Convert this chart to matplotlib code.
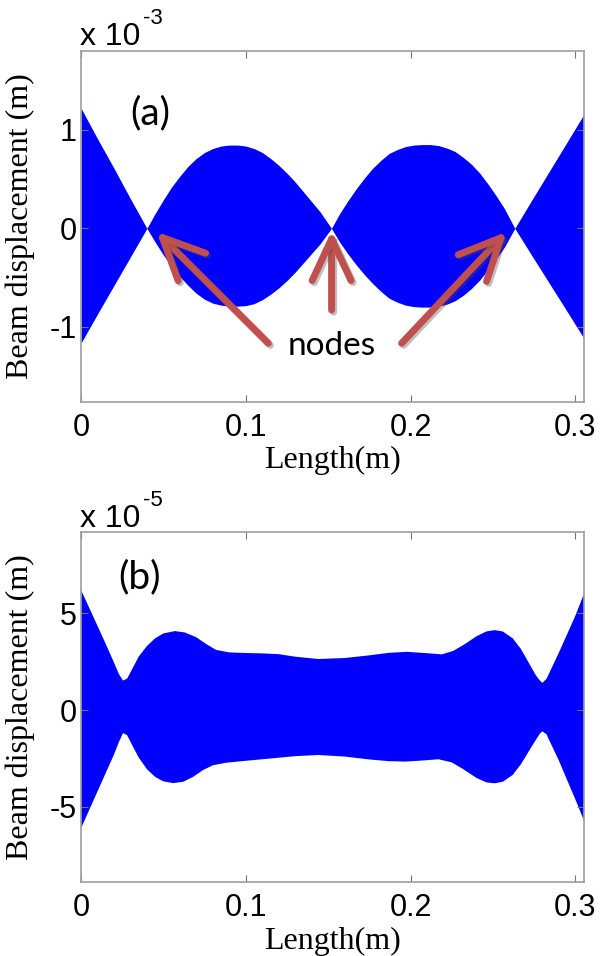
import matplotlib
matplotlib.use("Agg")
import matplotlib.pyplot as plt
import matplotlib.patheffects as pe
import numpy as np

# panel (a): envelope of the beam response, units of 1e-3 m
a_x = [0.000, 0.010, 0.020, 0.030, 0.040,
       0.045, 0.050, 0.055, 0.060, 0.065, 0.070, 0.075, 0.080, 0.085, 0.090,
       0.095, 0.100, 0.105, 0.110, 0.115, 0.120, 0.125, 0.130, 0.135, 0.140,
       0.145, 0.152,
       0.157, 0.162, 0.167, 0.172, 0.177, 0.182, 0.187, 0.192, 0.197, 0.202,
       0.207, 0.212, 0.217, 0.222, 0.227, 0.232, 0.237, 0.242, 0.247, 0.252,
       0.257, 0.2633,
       0.273, 0.283, 0.293, 0.305]
a_upper = [1.22, 0.91, 0.61, 0.30, 0.0,
           0.15, 0.29, 0.42, 0.53, 0.63, 0.71, 0.77, 0.81, 0.835, 0.845,
           0.845, 0.835, 0.81, 0.77, 0.71, 0.64, 0.56, 0.47, 0.37, 0.27,
           0.17, 0.0,
           0.15, 0.28, 0.40, 0.51, 0.61, 0.69, 0.76, 0.80, 0.83, 0.845,
           0.85, 0.85, 0.84, 0.815, 0.78, 0.72, 0.65, 0.56, 0.45, 0.33,
           0.20, 0.0,
           0.27, 0.545, 0.82, 1.15]
a_lower = [-1.165, -0.87, -0.58, -0.29, 0.0,
           -0.14, -0.27, -0.39, -0.49, -0.58, -0.66, -0.72, -0.76, -0.78, -0.79,
           -0.79, -0.785, -0.765, -0.725, -0.67, -0.605, -0.53, -0.445, -0.35, -0.255,
           -0.16, 0.0,
           -0.14, -0.26, -0.37, -0.47, -0.56, -0.64, -0.71, -0.75, -0.78, -0.795,
           -0.80, -0.80, -0.79, -0.77, -0.735, -0.68, -0.61, -0.525, -0.42, -0.31,
           -0.19, 0.0,
           -0.26, -0.525, -0.79, -1.11]

# panel (b): envelope, units of 1e-5 m
b_up_x = [0.000, 0.005, 0.010, 0.015, 0.020, 0.023, 0.0255, 0.028, 0.031,
          0.035, 0.040, 0.045, 0.050, 0.057, 0.063, 0.070, 0.076, 0.082,
          0.090, 0.100, 0.110, 0.120, 0.130, 0.144, 0.160, 0.175, 0.187,
          0.198, 0.210, 0.219, 0.226, 0.233, 0.240, 0.246, 0.251, 0.256,
          0.262, 0.267, 0.272, 0.276, 0.2785, 0.280, 0.2825, 0.285, 0.290,
          0.295, 0.300, 0.3053]
b_up_y = [6.19, 5.27, 4.34, 3.41, 2.45, 1.85, 1.52, 1.62, 2.10,
          2.75, 3.30, 3.70, 3.95, 4.07, 4.00, 3.75, 3.40, 3.10,
          2.97, 2.94, 2.92, 2.88, 2.75, 2.63, 2.68, 2.82, 2.95,
          3.00, 2.93, 2.87, 3.05, 3.40, 3.80, 4.05, 4.12, 4.05,
          3.70, 3.15, 2.40, 1.80, 1.52, 1.40, 1.60, 2.05, 2.95,
          3.90, 4.85, 6.00]
b_lo_x = [0.000, 0.005, 0.010, 0.015, 0.020, 0.023, 0.0255, 0.028, 0.031,
          0.035, 0.040, 0.045, 0.050, 0.056, 0.062, 0.068, 0.074, 0.080,
          0.088, 0.100, 0.115, 0.130, 0.144, 0.160, 0.175, 0.187, 0.197,
          0.208, 0.217, 0.225, 0.232, 0.240, 0.246, 0.251, 0.256, 0.262,
          0.267, 0.272, 0.276, 0.2785, 0.280, 0.2825, 0.285, 0.290, 0.295,
          0.300, 0.3053]
b_lo_y = [-6.10, -5.15, -4.20, -3.25, -2.30, -1.65, -1.19, -1.30, -1.80,
          -2.45, -3.05, -3.45, -3.68, -3.77, -3.70, -3.45, -3.10, -2.85,
          -2.72, -2.62, -2.50, -2.38, -2.32, -2.40, -2.55, -2.64, -2.66,
          -2.60, -2.54, -2.70, -3.05, -3.50, -3.73, -3.78, -3.70, -3.35,
          -2.80, -2.10, -1.55, -1.22, -1.10, -1.25, -1.70, -2.60, -3.60,
          -4.60, -5.70]

x_ticks = [0, 0.1, 0.2, 0.3]
x_tick_labels = ["0", "0.1", "0.2", "0.3"]
a_yticks = [-1, 0, 1]
b_yticks = [-5, 0, 5]

# node arrows in panel (a): (tail, tip) in data units
node_arrows = [((0.1137, -1.167), (0.0459, -0.035)),
               ((0.1521, -0.830), (0.1521, -0.024)),
               ((0.1946, -1.167), (0.2583, -0.035))]

W, H = 600, 956
plt.rcParams["axes.unicode_minus"] = False
fig = plt.figure(figsize=(W / 100, H / 100), dpi=100)

sans = "Liberation Sans"
serif = "Liberation Serif"
blue = "#0000ff"
arrow_col = "#c0504d"


def px(x, y):
    return x / W, 1 - y / H


def style_axes(ax, yticks, ylim):
    ax.set_xlim(0, 0.3053)
    ax.set_ylim(*ylim)
    ax.set_xticks(x_ticks)
    ax.set_xticklabels(x_tick_labels)
    ax.set_yticks(yticks)
    ax.set_yticklabels([str(v) for v in yticks])
    ax.tick_params(direction="in", length=5, width=0.8, color="0.45",
                   top=True, right=True, labelsize=22)
    ax.tick_params(axis="x", pad=8)
    ax.tick_params(axis="y", pad=3)
    for lab in ax.get_xticklabels() + ax.get_yticklabels():
        lab.set_fontfamily(sans)
    for s in ax.spines.values():
        s.set_color("0.62")
        s.set_linewidth(1.2)
    ax.set_xlabel("Length(m)", fontsize=23, fontfamily=serif)
    ax.set_ylabel("Beam displacement (m)", fontsize=23, fontfamily=serif)
    ax.xaxis.set_label_coords(0.5, -0.128)
    ax.yaxis.set_label_coords(-0.092, 0.5)


ax1 = fig.add_axes([81 / W, 1 - 401.5 / H, 503 / W, 350.5 / H])
ax1.fill_between(a_x, a_upper, a_lower, color=blue, lw=0)
style_axes(ax1, a_yticks, (-1.758, 1.80))

ax2 = fig.add_axes([81 / W, 1 - 882 / H, 503 / W, 350 / H])
ax2.fill(np.concatenate([b_up_x, b_lo_x[::-1]]),
         np.concatenate([b_up_y, b_lo_y[::-1]]), color=blue, lw=0)
style_axes(ax2, b_yticks, (-8.87, 9.18))

# exponent labels, MATLAB style
for base_y, exp in [(45, "-3"), (527, "-5")]:
    fig.text(*px(80, base_y), "x 10", fontsize=23, fontfamily=sans,
             ha="left", va="baseline")
    fig.text(*px(143, base_y - 21), exp, fontsize=16, fontfamily=sans,
             ha="left", va="baseline")

fig.text(*px(150.5, 113.7), "(a)", fontsize=28, fontfamily="Lato",
         ha="center", va="center")
fig.text(*px(139.5, 577), "(b)", fontsize=28, fontfamily="Lato",
         ha="center", va="center")

for tail, tip in node_arrows:
    ax1.annotate("", xy=tip, xytext=tail,
                 arrowprops=dict(arrowstyle="->,head_length=3.0,head_width=1.4",
                                 color=arrow_col, lw=5, shrinkA=0, shrinkB=0,
                                 mutation_scale=10,
                                 path_effects=[pe.SimpleLineShadow(offset=(1.5, -1.5),
                                                                   shadow_color="0.3",
                                                                   alpha=0.35),
                                               pe.Normal()]))
ax1.text(0.1521, -1.19, "nodes", fontsize=24, fontfamily="Lato",
         ha="center", va="center")

fig.savefig("out.png", dpi=100)
